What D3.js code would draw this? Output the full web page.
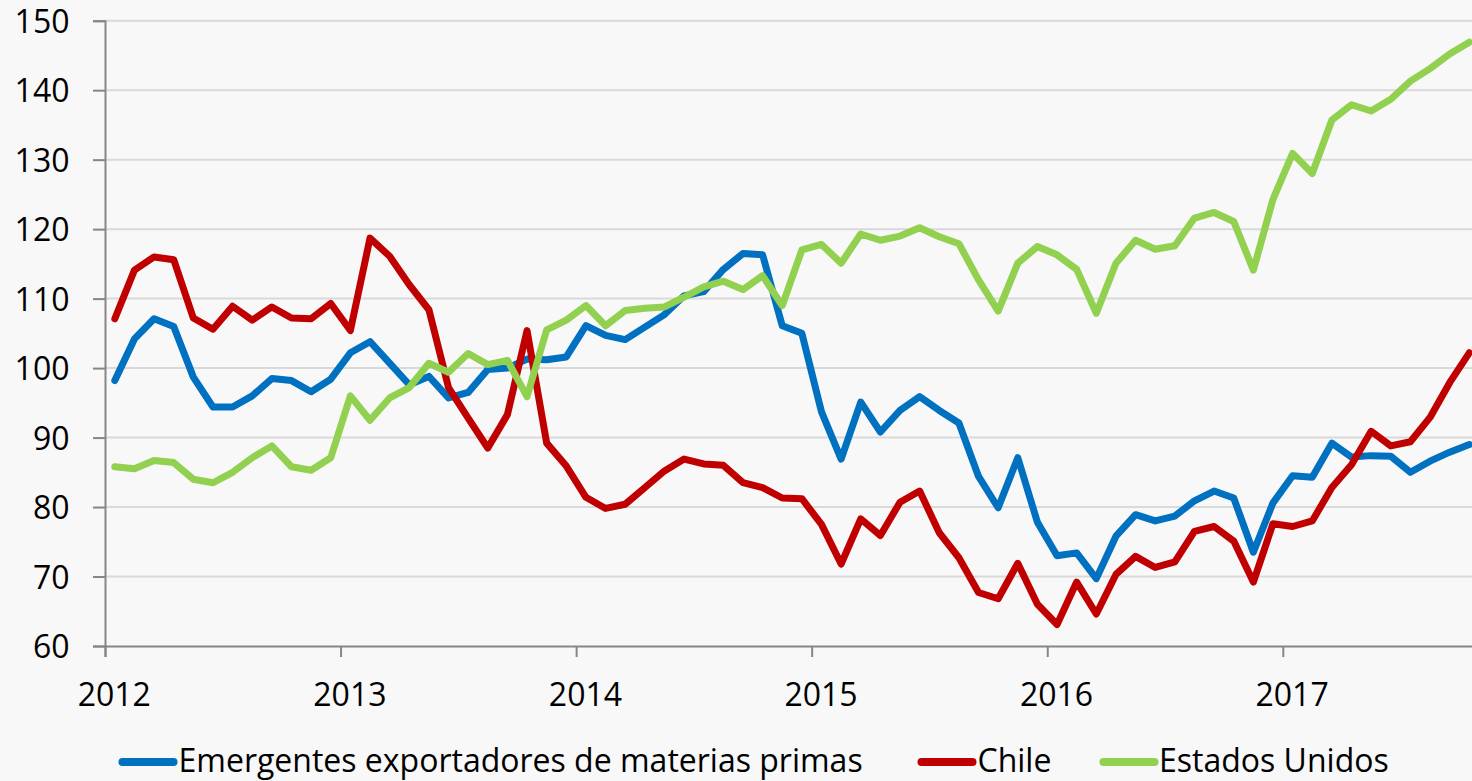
<!DOCTYPE html>
<html>
<head>
<meta charset="utf-8">
<script src="https://cdn.jsdelivr.net/npm/d3@7"></script>
<style>
  html, body { margin: 0; padding: 0; background: #f8f8f8; }
  svg { display: block; }
  text { font-family: "Open Sans", "Liberation Sans", sans-serif; fill: #000; }
</style>
</head>
<body>
<svg id="chart" width="1472" height="781"></svg>
<script>
// ---- Data (monthly, Jan 2012 - Oct 2017) ----
const yearLabels = ["2012", "2013", "2014", "2015", "2016", "2017"];
const yTicks = [60, 70, 80, 90, 100, 110, 120, 130, 140, 150];

const seriesNames = ["Emergentes exportadores de materias primas", "Chile", "Estados Unidos"];
const seriesColors = ["#0070C0", "#C00000", "#92D050"];

const emergentes = [
  98.2, 104.2, 107.1, 106.0, 98.7, 94.4, 94.4, 96.0, 98.5, 98.2, 96.6, 98.4,
  102.2, 103.8, 100.7, 97.6, 98.8, 95.7, 96.5, 99.8, 100.0, 101.3, 101.2, 101.6,
  106.1, 104.7, 104.1, 105.9, 107.7, 110.4, 111.0, 114.2, 116.5, 116.3, 106.1, 105.0,
  93.7, 86.9, 95.1, 90.8, 93.9, 95.9, 93.9, 92.1, 84.4, 79.9, 87.1, 77.8,
  73.0, 73.4, 69.7, 75.8, 78.9, 78.0, 78.7, 80.9, 82.3, 81.3, 73.5, 80.6,
  84.5, 84.3, 89.2, 87.2, 87.4, 87.3, 85.0, 86.6, 87.9, 89.0
];
const chile = [
  107.1, 114.1, 116.0, 115.6, 107.2, 105.6, 108.9, 106.9, 108.8, 107.2, 107.1, 109.3,
  105.4, 118.7, 116.1, 112.0, 108.4, 97.2, 92.8, 88.5, 93.3, 105.4, 89.2, 85.9,
  81.4, 79.8, 80.4, 82.8, 85.2, 86.9, 86.2, 86.0, 83.5, 82.8, 81.3, 81.2,
  77.5, 71.8, 78.3, 75.9, 80.7, 82.3, 76.3, 72.7, 67.7, 66.8, 71.9, 66.0,
  63.1, 69.2, 64.6, 70.3, 72.9, 71.3, 72.1, 76.5, 77.2, 75.1, 69.2, 77.6,
  77.2, 78.0, 82.8, 86.1, 90.9, 88.8, 89.4, 92.9, 97.9, 102.2
];
const estadosUnidos = [
  85.8, 85.5, 86.7, 86.4, 84.0, 83.5, 85.0, 87.1, 88.8, 85.8, 85.3, 87.1,
  96.0, 92.5, 95.7, 97.2, 100.7, 99.4, 102.1, 100.5, 101.1, 95.9, 105.5, 106.9,
  109.0, 106.1, 108.3, 108.6, 108.8, 110.2, 111.7, 112.5, 111.3, 113.3, 109.0, 117.0,
  117.8, 115.1, 119.3, 118.4, 119.0, 120.2, 118.9, 117.9, 112.7, 108.2, 115.1, 117.5,
  116.3, 114.2, 107.9, 115.1, 118.4, 117.1, 117.6, 121.6, 122.4, 121.1, 114.1, 124.3,
  130.9, 128.0, 135.7, 137.9, 137.0, 138.7, 141.3, 143.1, 145.2, 146.9
];
const allSeries = [emergentes, chile, estadosUnidos];

// ---- Layout ----
const svg = d3.select("#chart");
const plotLeft = 105, plotTop = 20.7, plotBottom = 646;
const monthW = 19.63;
const nMonths = 70;

const x = d3.scaleLinear().domain([0, nMonths]).range([plotLeft, plotLeft + nMonths * monthW]);
const y = d3.scaleLinear().domain([60, 150]).range([plotBottom, plotTop]);

svg.append("rect").attr("width", 1472).attr("height", 781).attr("fill", "#f8f8f8");

// gridlines
svg.append("g").selectAll("line").data(yTicks.filter(d => d > 60)).join("line")
  .attr("x1", plotLeft).attr("x2", 1472)
  .attr("y1", d => y(d)).attr("y2", d => y(d))
  .attr("stroke", "#d9d9d9").attr("stroke-width", 2);

// y axis
const yAxis = d3.axisLeft(y).tickValues(yTicks).tickSize(12).tickPadding(23.5).tickFormat(d3.format("d"));
const gy = svg.append("g").attr("transform", `translate(${plotLeft},0)`).call(yAxis);
gy.select(".domain").attr("stroke", "#868686").attr("stroke-width", 2);
gy.selectAll(".tick line").attr("stroke", "#868686").attr("stroke-width", 2);
gy.selectAll(".tick text").attr("font-size", 32).attr("font-family", "Open Sans").attr("dy", "0.36em");

// x axis (year ticks at January boundaries)
const yearTicks = yearLabels.map((d, i) => i * 12);
const xAxis = d3.axisBottom(x).tickValues(yearTicks).tickSize(11).tickFormat("");
const gx = svg.append("g").attr("transform", `translate(0,${plotBottom})`).call(xAxis);
gx.select(".domain").attr("stroke", "#868686").attr("stroke-width", 2);
gx.selectAll(".tick line").attr("stroke", "#868686").attr("stroke-width", 2);

svg.append("g").selectAll("text").data(yearLabels).join("text")
  .attr("x", (d, i) => x(i * 12 + 0.5) - 0.5)
  .attr("y", 705.5)
  .attr("text-anchor", "middle")
  .attr("font-size", 32)
  .text(d => d);

// lines
const line = d3.line().x((d, i) => x(i + 0.5)).y(d => y(d));
svg.append("g").selectAll("path").data(allSeries).join("path")
  .attr("d", d => line(d))
  .attr("fill", "none")
  .attr("stroke", (d, i) => seriesColors[i])
  .attr("stroke-width", 7)
  .attr("stroke-linejoin", "round")
  .attr("stroke-linecap", "round");

// legend
const legendX = [122.5, 921.5, 1103.5];
const legendTextX = [178.5, 977.5, 1159];
const lg = svg.append("g");
seriesNames.forEach((name, i) => {
  lg.append("line")
    .attr("x1", legendX[i]).attr("x2", legendX[i] + 51)
    .attr("y1", 762).attr("y2", 762)
    .attr("stroke", seriesColors[i]).attr("stroke-width", 8)
    .attr("stroke-linecap", "round");
  lg.append("text")
    .attr("x", legendTextX[i]).attr("y", 772)
    .attr("font-size", 32)
    .text(name);
});
</script>
</body>
</html>
